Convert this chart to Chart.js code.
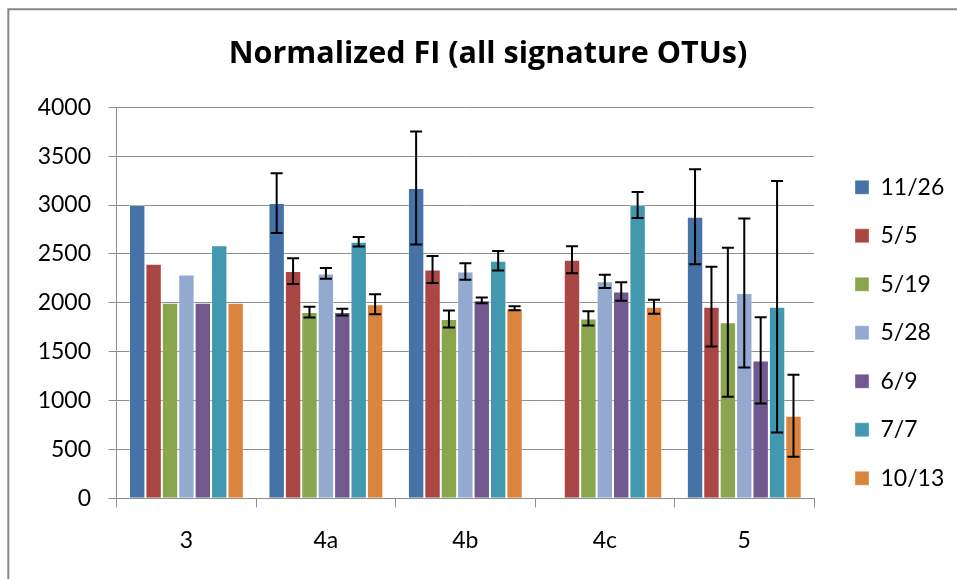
<!DOCTYPE html>
<html>
<head>
<meta charset="utf-8">
<script src="https://cdn.jsdelivr.net/npm/chart.js@4.4.0/dist/chart.umd.min.js"></script>
<style>
  html, body { margin: 0; padding: 0; background: #ffffff; }
  #wrap { width: 957px; height: 579px; position: relative; }
</style>
</head>
<body>
<div id="wrap"><canvas id="chart" width="957" height="579"></canvas></div>
<script>
// Sites along the x axis
const categories = ['3', '4a', '4b', '4c', '5'];

// Sampling dates (one series each)
const seriesLabels = ['11/26', '5/5', '5/19', '5/28', '6/9', '7/7', '10/13'];

// Normalized FI per site, one array per sampling date
const fi_1126 = [3000, 3020, 3175, null, 2880];
const fi_0505 = [2400, 2325, 2340, 2440, 1960];
const fi_0519 = [2000, 1905, 1835, 1840, 1800];
const fi_0528 = [2290, 2300, 2320, 2220, 2100];
const fi_0609 = [2000, 1905, 2025, 2115, 1410];
const fi_0707 = [2590, 2625, 2430, 3000, 1960];
const fi_1013 = [2000, 1985, 1945, 1960, 845];

// Error (+/-) per site, one array per sampling date
const err_1126 = [null, 305, 578, null, 486];
const err_0505 = [null, 132, 138, 138, 408];
const err_0519 = [null, 55, 87, 73, 762];
const err_0528 = [null, 55, 85, 68, 762];
const err_0609 = [null, 35, 29, 94, 441];
const err_0707 = [null, 48, 100, 133, 1287];
const err_1013 = [null, 102, 20, 72, 420];

// Value axis ticks
const yTicks = [0, 500, 1000, 1500, 2000, 2500, 3000, 3500, 4000];

const seriesValues = [fi_1126, fi_0505, fi_0519, fi_0528, fi_0609, fi_0707, fi_1013];
const seriesErrors = [err_1126, err_0505, err_0519, err_0528, err_0609, err_0707, err_1013];
const seriesColors = ['#4572A7', '#AA4643', '#89A54E', '#93A9CF', '#71588F', '#4198AF', '#DB843D'];

const FONT = 'Lato, "Liberation Sans", sans-serif';
const TITLE_FONT = '"Open Sans", Lato, sans-serif';
const GRID = '#8e8e8e';

const datasets = seriesLabels.map((label, i) => ({
  label: label,
  data: seriesValues[i],
  errors: seriesErrors[i],
  backgroundColor: seriesColors[i],
  borderColor: 'rgba(255,255,255,0.35)',
  borderWidth: 1,
  categoryPercentage: 7 / 8.5,
  barPercentage: 1.0
}));

// Outer frame of the chart
const framePlugin = {
  id: 'frame',
  beforeDraw(chart) {
    const ctx = chart.ctx;
    ctx.save();
    ctx.fillStyle = '#ffffff';
    ctx.fillRect(0, 0, chart.width, chart.height);
    ctx.strokeStyle = '#888888';
    ctx.lineWidth = 2;
    ctx.beginPath();
    ctx.moveTo(8.3, chart.height + 5);
    ctx.lineTo(8.3, 9.3);
    ctx.lineTo(chart.width + 5, 9.3);
    ctx.stroke();
    ctx.restore();
  }
};

// Legend box size and placement beside the plot
const LEGEND_W = 143;
const legendPlace = {
  id: 'legendPlace',
  beforeLayout(chart) {
    const lg = chart.legend;
    if (lg && !lg._fixedWidth) {
      const fit = lg.fit.bind(lg);
      lg.fit = function () { fit(); this.width = LEGEND_W; };
      lg._fixedWidth = true;
    }
  },
  afterLayout(chart) {
    const lg = chart.legend;
    if (!lg) return;
    const pad = lg.options.labels.padding;
    lg.left = 855 - pad;
    lg.right = lg.left + LEGEND_W;
    lg.top = 175.8 - pad;
    lg.bottom = chart.height;
  }
};

// Black error bars with caps, centred on each bar
const errorBars = {
  id: 'errorBars',
  afterDatasetsDraw(chart) {
    const ctx = chart.ctx;
    const y = chart.scales.y;
    ctx.save();
    ctx.strokeStyle = '#000000';
    ctx.lineWidth = 2;
    chart.data.datasets.forEach((ds, i) => {
      const meta = chart.getDatasetMeta(i);
      meta.data.forEach((bar, j) => {
        const v = ds.data[j];
        const e = ds.errors[j];
        if (v == null || e == null) return;
        const x = bar.x;
        const yt = y.getPixelForValue(v + e);
        const yb = y.getPixelForValue(v - e);
        const cap = 6;
        ctx.beginPath();
        ctx.moveTo(x, yt); ctx.lineTo(x, yb);
        ctx.moveTo(x - cap, yt); ctx.lineTo(x + cap, yt);
        ctx.moveTo(x - cap, yb); ctx.lineTo(x + cap, yb);
        ctx.stroke();
      });
    });
    ctx.restore();
  }
};

new Chart(document.getElementById('chart'), {
  type: 'bar',
  data: { labels: categories, datasets: datasets },
  options: {
    responsive: false,
    animation: false,
    devicePixelRatio: 1,
    layout: { padding: { left: 19, right: 0, top: 0, bottom: 0 } },
    plugins: {
      title: {
        display: true,
        text: 'Normalized FI (all signature OTUs)',
        color: '#000000',
        font: { family: TITLE_FONT, size: 30.5, weight: 'bold', lineHeight: 1.2 },
        padding: { top: 35.8, bottom: 34.9 }
      },
      legend: {
        display: true,
        position: 'right',
        align: 'start',
        fullSize: false,
        labels: {
          color: '#000000',
          font: { family: FONT, size: 23 },
          boxWidth: 14,
          boxHeight: 14,
          padding: 25.5
        }
      },
      tooltip: { enabled: false }
    },
    scales: {
      x: {
        offset: true,
        grid: {
          display: true,
          offset: true,
          drawOnChartArea: false,
          drawTicks: true,
          tickLength: 9,
          color: GRID,
          lineWidth: 1
        },
        border: { display: true, color: GRID, width: 1 },
        ticks: {
          color: '#000000',
          font: { family: FONT, size: 23 },
          padding: 19.9,
          maxRotation: 0
        },
        afterFit(scale) { scale.height = 579 - 498.3; }
      },
      y: {
        min: 0,
        max: 4000,
        afterBuildTicks(scale) { scale.ticks = yTicks.map(v => ({ value: v })); },
        grid: {
          color: GRID,
          lineWidth: 1,
          drawTicks: true,
          tickLength: 8
        },
        border: { display: true, color: GRID, width: 1 },
        ticks: {
          color: '#000000',
          font: { family: FONT, size: 23 },
          padding: 17.7,
          callback: (v) => String(v)
        },
        afterFit(scale) { scale.width = 116.7 - 19; }
      }
    }
  },
  plugins: [framePlugin, legendPlace, errorBars]
});
</script>
</body>
</html>
